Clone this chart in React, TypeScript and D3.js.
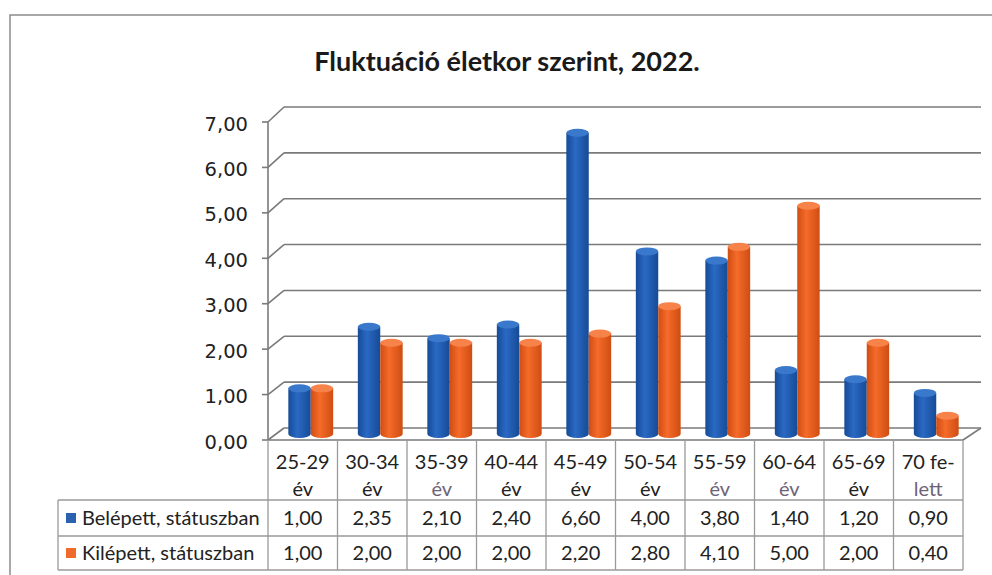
import * as d3 from "d3";
import { useEffect, useRef } from "react";

// adatok
const categoryLines = [
  ["25-29", "év"],
  ["30-34", "év"],
  ["35-39", "év"],
  ["40-44", "év"],
  ["45-49", "év"],
  ["50-54", "év"],
  ["55-59", "év"],
  ["60-64", "év"],
  ["65-69", "év"],
  ["70 fe-", "lett"],
];
const seriesNames = ["Belépett, státuszban", "Kilépett, státuszban"];
const belepett = [1.0, 2.35, 2.1, 2.4, 6.6, 4.0, 3.8, 1.4, 1.2, 0.9];
const kilepett = [1.0, 2.0, 2.0, 2.0, 2.2, 2.8, 4.1, 5.0, 2.0, 0.4];
const yTicks = [0, 1, 2, 3, 4, 5, 6, 7];
const title = "Fluktuáció életkor szerint, 2022.";

const colors = [
  { dark: "#164b96", mid: "#2a69c4", top: "#3a78cc" },
  { dark: "#cf4d12", mid: "#f56b2a", top: "#f7834a" },
];
const legendColors = ["#2a62b0", "#f06a2c"];
// a szkennelt képen halványabb "év" feliratok
const fadedLabels = [2, 6, 7, 9];

const W = 992;
const H = 575;

const fmt = (v: number) => d3.format(".2f")(v).replace(".", ",");

export default function App() {
  const ref = useRef<SVGSVGElement | null>(null);

  useEffect(() => {
    document.body.style.margin = "0";
    const svg = d3.select(ref.current);
    svg.selectAll("*").remove();

    const left = 268;
    const right = 963;
    const depth = { dx: 16 };

    const x = d3
      .scaleBand<number>()
      .domain(d3.range(categoryLines.length))
      .range([left, right]);

    // elülső tengely, hátsó fal és oszlopok (középső mélység) skálái
    const yFront = d3.scaleLinear().domain([0, 7]).range([440, 122]);
    const yBack = d3.scaleLinear().domain([0, 7]).range([428, 107]);
    const yBar = d3.scaleLinear().domain([0, 7]).range([434, 114.5]);

    const sub = d3
      .scaleBand<number>()
      .domain([0, 1])
      .range([0, x.bandwidth()])
      .paddingOuter(0.55)
      .paddingInner(0);

    const defs = svg.append("defs");
    colors.forEach((c, i) => {
      const g = defs
        .append("linearGradient")
        .attr("id", "cyl" + i)
        .attr("x1", 0)
        .attr("x2", 1)
        .attr("y1", 0)
        .attr("y2", 0);
      g.append("stop").attr("offset", 0).attr("stop-color", c.dark);
      g.append("stop").attr("offset", 0.4).attr("stop-color", c.mid);
      g.append("stop").attr("offset", 1).attr("stop-color", c.dark);
    });

    // keret
    svg
      .append("rect")
      .attr("x", 10)
      .attr("y", 15)
      .attr("width", W)
      .attr("height", H)
      .attr("fill", "none")
      .attr("stroke", "#8c8c8c")
      .attr("stroke-width", 1.5);

    // cím
    svg
      .append("text")
      .attr("x", 507)
      .attr("y", 71)
      .attr("text-anchor", "middle")
      .style("font-family", "Lato, 'Open Sans', sans-serif")
      .style("font-weight", "bold")
      .style("font-size", "27px")
      .style("fill", "#1a1a1a")
      .text(title);

    const wall = svg.append("g").attr("stroke", "#7a7a7a").attr("stroke-width", 1.6).attr("fill", "none");

    // rácsvonalak a hátsó falon + oldalfal átlói
    yTicks.forEach((t) => {
      wall
        .append("line")
        .attr("x1", left + depth.dx)
        .attr("x2", right + depth.dx + 2)
        .attr("y1", yBack(t))
        .attr("y2", yBack(t));
      wall
        .append("line")
        .attr("x1", left)
        .attr("y1", yFront(t))
        .attr("x2", left + depth.dx)
        .attr("y2", yBack(t));
      wall
        .append("line")
        .attr("x1", left - 6)
        .attr("x2", left)
        .attr("y1", yFront(t))
        .attr("y2", yFront(t));
    });
    // padló eleje és jobb oldala
    wall
      .append("line")
      .attr("x1", left)
      .attr("x2", right)
      .attr("y1", yFront(0))
      .attr("y2", yFront(0));
    wall
      .append("line")
      .attr("x1", right)
      .attr("y1", yFront(0))
      .attr("x2", right + depth.dx + 2)
      .attr("y2", yBack(0));
    // y tengely
    wall
      .append("line")
      .attr("x1", left)
      .attr("x2", left)
      .attr("y1", yFront(7))
      .attr("y2", yFront(0));

    // y feliratok
    svg
      .append("g")
      .selectAll("text")
      .data(yTicks)
      .enter()
      .append("text")
      .attr("x", 248)
      .attr("y", (d) => yFront(d) + 2)
      .attr("text-anchor", "end")
      .attr("dominant-baseline", "central")
      .style("font-family", "'DejaVu Sans', Verdana, sans-serif")
      .style("font-size", "19.5px")
      .style("fill", "#222")
      .text((d) => fmt(d));

    // hengerek
    const series = [belepett, kilepett];
    const ry = 4;
    series.forEach((vals, si) => {
      const g = svg.append("g");
      vals.forEach((v, ci) => {
        const w = sub.bandwidth();
        const x0 = (x(ci) as number) + (sub(si) as number) + depth.dx / 2;
        const yTop = yBar(v);
        const yBase = yBar(0);
        g.append("path")
          .attr(
            "d",
            `M${x0},${yTop} L${x0},${yBase} A${w / 2},${ry} 0 0 0 ${x0 + w},${yBase} L${x0 + w},${yTop} Z`
          )
          .attr("fill", `url(#cyl${si})`);
        g.append("ellipse")
          .attr("cx", x0 + w / 2)
          .attr("cy", yTop)
          .attr("rx", w / 2)
          .attr("ry", ry)
          .attr("fill", colors[si].top);
      });
    });

    // adattábla
    const table = svg.append("g");
    const rowTop = 500;
    const rowMid = 536;
    const rowBottom = 570;
    const tableLeft = 58;
    const lineColor = "#9a9a9a";
    const font = "Lato, 'Open Sans', sans-serif";
    const fs = "20px";

    [rowTop, rowMid, rowBottom].forEach((yy) => {
      table
        .append("line")
        .attr("x1", tableLeft)
        .attr("x2", right)
        .attr("y1", yy)
        .attr("y2", yy)
        .attr("stroke", lineColor)
        .attr("stroke-width", 1.3);
    });
    table
      .append("line")
      .attr("x1", tableLeft)
      .attr("x2", tableLeft)
      .attr("y1", rowTop)
      .attr("y2", rowBottom)
      .attr("stroke", lineColor)
      .attr("stroke-width", 1.3);
    d3.range(categoryLines.length + 1).forEach((i) => {
      const xx = i < categoryLines.length ? (x(i) as number) : right;
      table
        .append("line")
        .attr("x1", xx)
        .attr("x2", xx)
        .attr("y1", yFront(0))
        .attr("y2", rowBottom)
        .attr("stroke", lineColor)
        .attr("stroke-width", 1.3);
    });

    categoryLines.forEach((lines, ci) => {
      const cx = (x(ci) as number) + x.bandwidth() / 2;
      lines.forEach((ln, li) => {
        table
          .append("text")
          .attr("x", cx)
          .attr("y", li === 0 ? 469 : 496)
          .attr("text-anchor", "middle")
          .style("font-family", font)
          .style("font-size", fs)
          .style("fill", li === 1 && fadedLabels.includes(ci) ? "#6e6478" : "#222")
          .text(ln);
      });
    });

    series.forEach((vals, si) => {
      const yy = si === 0 ? 525 : 560;
      table
        .append("rect")
        .attr("x", 66)
        .attr("y", yy - 12)
        .attr("width", 10)
        .attr("height", 10)
        .attr("fill", legendColors[si]);
      table
        .append("text")
        .attr("x", 82)
        .attr("y", yy)
        .style("font-family", font)
        .style("font-size", fs)
        .style("fill", "#222")
        .text(seriesNames[si]);
      vals.forEach((v, ci) => {
        table
          .append("text")
          .attr("x", (x(ci) as number) + x.bandwidth() / 2)
          .attr("y", yy)
          .attr("text-anchor", "middle")
          .style("font-family", font)
          .style("font-size", fs)
          .style("fill", "#222")
          .text(fmt(v));
      });
    });
  }, []);

  return <svg ref={ref} width={W} height={H} style={{ display: "block", background: "#fff" }} />;
}
